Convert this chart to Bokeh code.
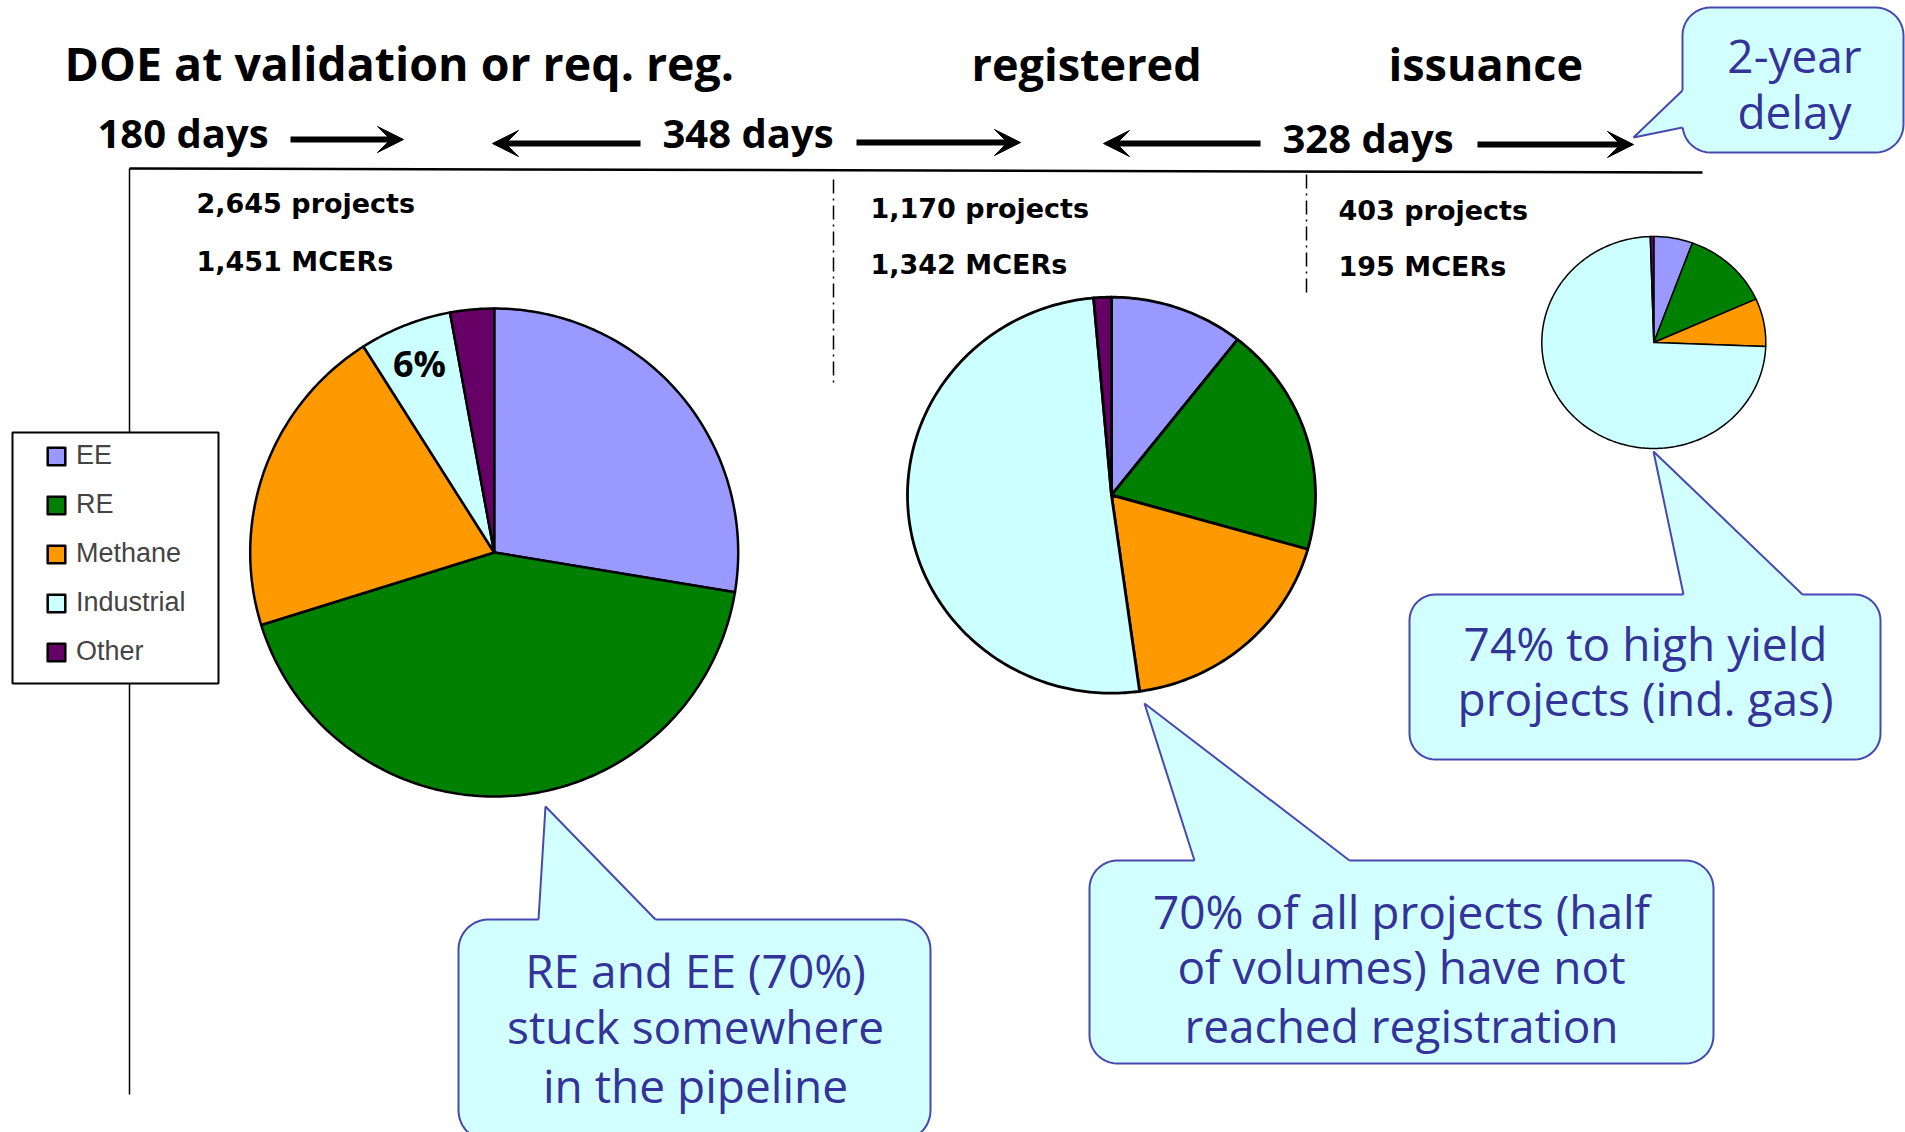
import numpy as np
from bokeh.plotting import figure
from bokeh.models import Range1d, Arrow, VeeHead, Legend, LegendItem, ColumnDataSource
from bokeh.core.properties import value
from bokeh.embed import file_html
from bokeh.resources import INLINE

W, H = 1905, 1132

# ---------------- data ----------------
categories = ["EE", "RE", "Methane", "Industrial", "Other"]
colors = ["#9999FF", "#008000", "#FF9900", "#CCFFFF", "#660066"]
validation_share = [27.6, 42.6, 20.8, 6.1, 2.9]    # % of volume at validation / req. reg.
registered_share = [10.6, 18.8, 18.4, 50.8, 1.4]   # % of volume registered
issued_share = [5.6, 12.7, 7.3, 73.9, 0.5]         # % of volume with issuance

stage_labels = ["DOE  at validation or req. reg.", "registered", "issuance"]
durations = ["180 days", "348 days", "328 days"]
projects = ["2,645 projects", "1,170 projects", "403 projects"]
volumes = ["1,451 MCERs", "1,342 MCERs", "195 MCERs"]

callout_texts = [
    ["2-year", "delay"],
    ["74% to high yield", "projects (ind. gas)"],
    ["70% of all projects (half", "of volumes) have not", "reached registration"],
    ["RE and EE (70%)", "stuck somewhere", "in the pipeline"],
]

# ---------------- figure ----------------
p = figure(width=W, height=H, x_range=Range1d(0, W), y_range=Range1d(H, 0),
           output_backend="svg", toolbar_location=None, min_border=0,
           x_axis_location=None, y_axis_location=None)
p.grid.visible = False
p.outline_line_color = None
p.background_fill_color = "white"
p.border_fill_color = "white"

BOLD_FONT = "Open Sans"
CALL_FILL = "#D2FFFF"
CALL_LINE = "#4848B0"
CALL_TEXT = "#333399"


def bl(y, size):
    """baseline position corrected for the renderer's text offset"""
    return y - 0.39 * size


def pie_polys(shares, cx, cy, rx, ry):
    frac = np.asarray(shares, dtype=float) / float(sum(shares))
    ends = np.cumsum(frac) * 2 * np.pi
    starts = ends - frac * 2 * np.pi
    xs, ys = [], []
    for a0, a1 in zip(starts, ends):
        n = max(int(np.degrees(a1 - a0)), 2)
        t = np.linspace(a0, a1, n + 1)
        xs.append([cx] + list(cx + rx * np.sin(t)))
        ys.append([cy] + list(cy - ry * np.cos(t)))
    return xs, ys


pies = [
    (validation_share, 493.7, 552.0, 244.0, 244.0, 2.5),
    (registered_share, 1111.0, 494.7, 204.0, 198.0, 2.8),
    (issued_share, 1653.3, 342.0, 112.0, 106.0, 1.5),
]
pie_renderers = []
for shares, cx, cy, rx, ry, lw in pies:
    xs, ys = pie_polys(shares, cx, cy, rx, ry)
    src = ColumnDataSource(dict(xs=xs, ys=ys, color=colors, label=categories, share=shares))
    r = p.patches("xs", "ys", source=src, fill_color="color", line_color="black",
                  line_width=lw, line_join="round")
    pie_renderers.append(r)

# 6% label on the industrial slice of the first pie
p.text(x=[419], y=[bl(377, 36)], text=[f"{validation_share[3]:.0f}%"], text_align="center",
       text_baseline="alphabetic", text_font=value(BOLD_FONT), text_font_style="bold",
       text_font_size="36px", text_color="black")

# ---------------- timeline frame ----------------
p.line(x=[129, 1702], y=[168, 172], line_color="black", line_width=2.5)
p.segment(x0=[129, 129], y0=[168, 683], x1=[129, 129], y1=[432, 1094],
          line_color="black", line_width=1.5)
p.segment(x0=[833, 1306], y0=[179, 174], x1=[833, 1306], y1=[384, 296],
          line_color="black", line_width=1.5, line_dash="14 5 2 5")

# ---------------- headers ----------------
p.text(x=[64], y=[bl(81, 46.5)], text=stage_labels[:1], text_align="left",
       text_baseline="alphabetic", text_font=value(BOLD_FONT), text_font_style="bold",
       text_font_size="46.5px", text_color="black")
p.text(x=[971, 1388], y=[bl(81, 45)] * 2, text=stage_labels[1:], text_align="left",
       text_baseline="alphabetic", text_font=value(BOLD_FONT), text_font_style="bold",
       text_font_size="45px", text_color="black")
p.text(x=[97, 662, 1282], y=[bl(148, 40), bl(148, 40), bl(153, 40)], text=durations,
       text_align="left", text_baseline="alphabetic", text_font=value(BOLD_FONT),
       text_font_style="bold", text_font_size="40px", text_color="black")
p.text(x=[196, 870, 1338], y=[bl(214, 27), bl(219, 27), bl(221, 27)], text=projects,
       text_align="left", text_baseline="alphabetic", text_font=value("DejaVu Sans"),
       text_font_style="bold", text_font_size="27px", text_color="black")
p.text(x=[196, 870, 1338], y=[bl(272, 27), bl(275, 27), bl(277, 27)], text=volumes,
       text_align="left", text_baseline="alphabetic", text_font=value("DejaVu Sans"),
       text_font_style="bold", text_font_size="27px", text_color="black")

# ---------------- arrows ----------------
arrows = [
    (290, 139, 403, 139),
    (640, 143, 492, 143),
    (856, 142, 1020, 142),
    (1260, 143, 1103, 143),
    (1477, 144, 1633, 144),
]
for xs_, ys_, xe_, ye_ in arrows:
    p.add_layout(Arrow(end=VeeHead(size=26, fill_color="black", line_color="black", line_width=1),
                       x_start=xs_, y_start=ys_, x_end=xe_, y_end=ye_,
                       line_color="black", line_width=6))

# ---------------- legend ----------------
p.quad(left=[12], right=[218], top=[432], bottom=[683], fill_color="white",
       line_color="black", line_width=2)
items = [LegendItem(label=c, renderers=[pie_renderers[0]], index=i) for i, c in enumerate(categories)]
legend = Legend(items=items, location=(45, 465), padding=0, margin=0, spacing=18,
                glyph_width=22, glyph_height=22, label_height=22, label_standoff=9,
                label_text_font="Liberation Sans", label_text_font_size="27px",
                border_line_color=None, background_fill_alpha=0)
p.add_layout(legend)


# ---------------- callouts ----------------
def rrect(x0, y0, x1, y1, r, n=12):
    xs, ys = [], []
    corners = [(x1 - r, y0 + r, -90, 0), (x1 - r, y1 - r, 0, 90),
               (x0 + r, y1 - r, 90, 180), (x0 + r, y0 + r, 180, 270)]
    for cx, cy, a0, a1 in corners:
        for a in np.linspace(np.radians(a0), np.radians(a1), n):
            xs.append(cx + r * np.cos(a))
            ys.append(cy + r * np.sin(a))
    return xs, ys


callouts = [
    dict(box=(1682, 7, 1903, 152), r=28, a=(1682, 90), b=(1682, 127), tip=(1633, 137), inw=(1, 0),
         cx=1794, base=[72, 128]),
    dict(box=(1409, 594, 1880, 759), r=26, a=(1683, 594), b=(1802, 594), tip=(1653, 451), inw=(0, 1),
         cx=1645, base=[660, 715]),
    dict(box=(1089, 860, 1713, 1063), r=28, a=(1194, 860), b=(1349, 860), tip=(1144, 703), inw=(0, 1),
         cx=1401, base=[928, 983, 1042]),
    dict(box=(458, 919, 930, 1140), r=30, a=(538, 919), b=(655, 919), tip=(545, 806), inw=(0, 1),
         cx=695, base=[987, 1043, 1102]),
]
for c, lines in zip(callouts, callout_texts):
    bx, by = rrect(*c["box"], c["r"])
    p.patch(bx, by, fill_color=CALL_FILL, line_color=CALL_LINE, line_width=2)
    (ax, ay), (bx2, by2), (tx, ty), (ix, iy) = c["a"], c["b"], c["tip"], c["inw"]
    p.patch([ax + 3 * ix, ax, tx, bx2, bx2 + 3 * ix], [ay + 3 * iy, ay, ty, by2, by2 + 3 * iy],
            fill_color=CALL_FILL, line_color=None)
    p.line([ax, tx, bx2], [ay, ty, by2], line_color=CALL_LINE, line_width=2)
    p.text(x=[c["cx"]] * len(lines), y=[bl(b, 46) for b in c["base"]], text=lines,
           text_align="center", text_baseline="alphabetic", text_font=value("Open Sans"),
           text_font_size="46px", text_color=CALL_TEXT)

open("out.html", "w").write(file_html(p, INLINE))
